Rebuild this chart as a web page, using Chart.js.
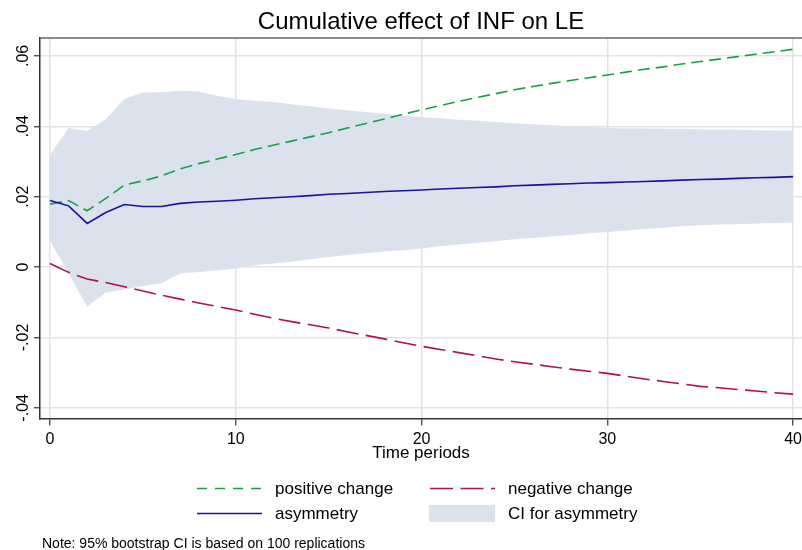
<!DOCTYPE html>
<html><head><meta charset="utf-8">
<script src="https://cdn.jsdelivr.net/npm/chart.js@4.4.1/dist/chart.umd.min.js"></script>
<style>
html,body{margin:0;padding:0;background:#fff;}
#wrap{position:relative;width:802px;height:550px;overflow:hidden;font-family:"Liberation Sans",Arial,sans-serif;color:#000;}
#c{position:absolute;left:0;top:0;}
.lg{position:absolute;font-size:17px;line-height:20px;white-space:nowrap;}
.note{position:absolute;left:42px;top:535px;font-size:14px;line-height:17px;white-space:nowrap;}
#lsvg{position:absolute;left:0;top:0;pointer-events:none;}
</style></head><body>
<div id="wrap">
<canvas id="c" width="802" height="550"></canvas>
<svg id="lsvg" width="802" height="550">
  <line x1="197" y1="488.5" x2="262" y2="488.5" stroke="#18a048" stroke-width="1.6" stroke-dasharray="10 8"/>
  <line x1="430" y1="488.5" x2="495" y2="488.5" stroke="#b0104c" stroke-width="1.6" stroke-dasharray="23 7.5"/>
  <line x1="197" y1="513.5" x2="262" y2="513.5" stroke="#1414a0" stroke-width="1.6"/>
  <rect x="429" y="505" width="66" height="17" fill="rgb(219,226,237)"/>
</svg>
<div class="lg" style="left:275px;top:479px">positive change</div>
<div class="lg" style="left:508px;top:479px">negative change</div>
<div class="lg" style="left:275px;top:503.5px">asymmetry</div>
<div class="lg" style="left:508px;top:503.5px">CI for asymmetry</div>
<div class="note">Note: 95% bootstrap CI is based on 100 replications</div>
</div>
<script>
const periods = [0,1,2,3,4,5,6,7,8,9,10,11,12,13,14,15,16,17,18,19,20,21,22,23,24,25,26,27,28,29,30,31,32,33,34,35,36,37,38,39,40];
const positiveChange = [0.0179,0.0189,0.0160,0.0195,0.0233,0.0245,0.0259,0.0279,0.0294,0.0307,0.0320,0.0334,0.0346,0.0358,0.0370,0.0382,0.0395,0.0408,0.0421,0.0434,0.0447,0.0459,0.0471,0.0482,0.0493,0.0504,0.0513,0.0522,0.0530,0.0538,0.0546,0.0554,0.0562,0.0569,0.0577,0.0584,0.0591,0.0598,0.0605,0.0612,0.0619];
const negativeChange = [0.0010,-0.0015,-0.0034,-0.0044,-0.0056,-0.0068,-0.0080,-0.0091,-0.0102,-0.0112,-0.0122,-0.0134,-0.0145,-0.0155,-0.0164,-0.0173,-0.0184,-0.0194,-0.0204,-0.0215,-0.0225,-0.0234,-0.0243,-0.0252,-0.0261,-0.0269,-0.0276,-0.0283,-0.0290,-0.0296,-0.0302,-0.0310,-0.0318,-0.0325,-0.0332,-0.0339,-0.0343,-0.0348,-0.0352,-0.0357,-0.0361];
const asymmetry = [0.0189,0.0174,0.0124,0.0155,0.0178,0.0172,0.0172,0.0181,0.0185,0.0187,0.0190,0.0194,0.0197,0.0200,0.0203,0.0207,0.0209,0.0212,0.0215,0.0217,0.0219,0.0222,0.0224,0.0226,0.0228,0.0231,0.0233,0.0235,0.0237,0.0239,0.0240,0.0242,0.0243,0.0245,0.0247,0.0249,0.0250,0.0252,0.0254,0.0255,0.0257];
const ciUpper = [0.0319,0.0395,0.0387,0.0420,0.0478,0.0496,0.0497,0.0501,0.0499,0.0487,0.0478,0.0473,0.0469,0.0463,0.0457,0.0451,0.0446,0.0441,0.0436,0.0431,0.0426,0.0423,0.0419,0.0416,0.0412,0.0409,0.0406,0.0403,0.0400,0.0398,0.0395,0.0394,0.0394,0.0393,0.0393,0.0392,0.0391,0.0390,0.0389,0.0388,0.0388];
const ciLower = [0.0075,-0.0018,-0.0113,-0.0072,-0.0064,-0.0054,-0.0046,-0.0018,-0.0014,-0.0010,-0.0004,0.0005,0.0010,0.0015,0.0022,0.0029,0.0034,0.0039,0.0044,0.0048,0.0053,0.0059,0.0064,0.0069,0.0074,0.0079,0.0083,0.0087,0.0091,0.0096,0.0100,0.0104,0.0108,0.0112,0.0116,0.0119,0.0121,0.0122,0.0124,0.0125,0.0126];
const xTicks = [0,10,20,30,40];
const xTickLabels = ['0','10','20','30','40'];
const yTicks = [-0.04,-0.02,0,0.02,0.04,0.06];
const yTickLabels = ['-.04','-.02','0','.02','.04','.06'];

const FONT = '"Liberation Sans", Arial, sans-serif';
const GREEN = '#18a048', RED = '#b0104c', BLUE = '#1414a0', BAND = 'rgb(219,226,237)';
const pts = arr => periods.map((t, i) => ({x: t, y: arr[i]}));

const topBorder = {
  id: 'topBorder',
  afterDraw(chart) {
    const {ctx, chartArea} = chart;
    ctx.save();
    ctx.strokeStyle = '#666';
    ctx.lineWidth = 1.5;
    ctx.beginPath();
    ctx.moveTo(chartArea.left, chartArea.top);
    ctx.lineTo(chartArea.right, chartArea.top);
    ctx.stroke();
    ctx.restore();
  }
};
const yLabels = {
  id: 'yLabels',
  afterDraw(chart) {
    const s = chart.scales.y, ctx = chart.ctx;
    ctx.save();
    ctx.fillStyle = '#000';
    ctx.font = '16px ' + FONT;
    ctx.textAlign = 'center';
    ctx.textBaseline = 'alphabetic';
    yTicks.forEach((v, i) => {
      const y = s.getPixelForValue(v);
      ctx.save();
      ctx.translate(27.5, y);
      ctx.rotate(-Math.PI / 2);
      ctx.fillText(yTickLabels[i], 0, 0);
      ctx.restore();
    });
    ctx.restore();
  }
};

new Chart(document.getElementById('c'), {
  type: 'line',
  data: {
    datasets: [
      {label: 'CI for asymmetry', data: pts(ciUpper), borderWidth: 0, pointRadius: 0, fill: '+1', backgroundColor: BAND, borderColor: BAND, order: 5},
      {label: 'CI lower', data: pts(ciLower), borderWidth: 0, pointRadius: 0, fill: false, borderColor: BAND, order: 4},
      {label: 'positive change', data: pts(positiveChange), borderColor: GREEN, borderWidth: 1.6, borderDash: [12, 6], pointRadius: 0, fill: false, order: 3},
      {label: 'negative change', data: pts(negativeChange), borderColor: RED, borderWidth: 1.6, borderDash: [22, 7.5], pointRadius: 0, fill: false, order: 2},
      {label: 'asymmetry', data: pts(asymmetry), borderColor: BLUE, borderWidth: 1.6, pointRadius: 0, fill: false, order: 1}
    ]
  },
  options: {
    responsive: false,
    animation: false,
    layout: {padding: {left: 0, right: 0, top: 0, bottom: 86}},
    plugins: {
      legend: {display: false},
      tooltip: {enabled: false},
      filler: {drawTime: 'beforeDatasetsDraw'},
      title: {display: true, text: 'Cumulative effect of INF on LE', fullSize: false, color: '#000',
        font: {family: FONT, size: 24, weight: 'normal'}, padding: {top: 8, bottom: 1.2}}
    },
    scales: {
      x: {
        type: 'linear', min: -0.54, max: 40.48,
        afterBuildTicks: s => { s.ticks = xTicks.map(v => ({value: v})); },
        afterFit: s => { s.paddingLeft = 0; s.paddingRight = 0; },
        grid: {color: '#e3e3e3', lineWidth: 1.5, tickColor: '#333', tickLength: 7, tickWidth: 1.2},
        border: {color: '#333', width: 1.5},
        ticks: {font: {family: FONT, size: 16}, color: '#000', padding: 5, maxRotation: 0, autoSkip: false,
          callback: v => xTickLabels[xTicks.indexOf(v)]},
        title: {display: true, text: 'Time periods', color: '#000', font: {family: FONT, size: 17}, padding: {top: -11, bottom: 0}}
      },
      y: {
        min: -0.043, max: 0.0651,
        afterBuildTicks: s => { s.ticks = yTicks.map(v => ({value: v})); },
        afterFit: s => { s.width = 40; },
        grid: {color: '#e3e3e3', lineWidth: 1.5, tickColor: '#333', tickLength: 6, tickWidth: 1.2},
        border: {color: '#333', width: 1.5},
        ticks: {display: false}
      }
    }
  },
  plugins: [topBorder, yLabels]
});
</script>
</body></html>
